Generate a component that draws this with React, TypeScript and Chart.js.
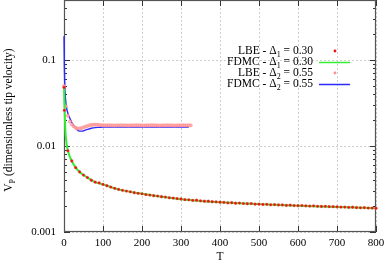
import React, { useEffect, useRef } from "react";
import { Chart, registerables } from "chart.js";

Chart.register(...registerables);

// ---------- data ----------
const lbe1T = [0, 1, 10, 20, 30, 40, 50, 60, 70, 80, 90, 100, 110, 120, 130, 140, 150, 160, 170, 180, 190, 200, 210, 220, 230, 240, 250, 260, 270, 280, 290, 300, 310, 320, 330, 340, 350, 360, 370, 380, 390, 400, 410, 420, 430, 440, 450, 460, 470, 480, 490, 500, 510, 520, 530, 540, 550, 560, 570, 580, 590, 600, 610, 620, 630, 640, 650, 660, 670, 680, 690, 700, 710, 720, 730, 740, 750, 760, 770, 780, 790, 800];
const lbe1V = [0.048, 0.026, 0.0088, 0.0067, 0.0056, 0.0050, 0.0046, 0.0043, 0.0040, 0.0038, 0.00372, 0.00358, 0.00345, 0.00333, 0.00322, 0.00313, 0.00305, 0.00299, 0.00293, 0.00286, 0.00282, 0.00278, 0.00272, 0.00269, 0.00264, 0.00262, 0.00257, 0.00255, 0.00250, 0.00248, 0.00244, 0.00242, 0.00238, 0.00237, 0.00233, 0.00234, 0.00230, 0.00228, 0.00228, 0.00225, 0.00224, 0.00222, 0.00221, 0.00218, 0.00219, 0.00216, 0.00217, 0.00214, 0.00213, 0.00214, 0.00211, 0.00211, 0.00209, 0.00210, 0.00207, 0.00208, 0.00206, 0.00206, 0.00204, 0.00205, 0.00203, 0.00202, 0.00203, 0.00201, 0.00200, 0.00201, 0.00199, 0.00198, 0.00199, 0.00197, 0.00197, 0.00196, 0.00195, 0.00195, 0.00193, 0.00194, 0.00192, 0.00191, 0.00192, 0.00190, 0.00190, 0.00189];

const fdmc1T = [0, 1, 2, 3, 4, 6, 8, 10, 15, 20, 30, 40, 50, 60, 80, 100, 125, 150, 200, 250, 300, 350, 400, 450, 500, 600, 700, 800];
const fdmc1V = [0.05, 0.033, 0.024, 0.017, 0.014, 0.0112, 0.0097, 0.0088, 0.0075, 0.0067, 0.0056, 0.0050, 0.0046, 0.0043, 0.0038, 0.00358, 0.00327, 0.00305, 0.00278, 0.00257, 0.00241, 0.00230, 0.00222, 0.00216, 0.00211, 0.00202, 0.00196, 0.00189];

const lbe2T = [0, 5, 10, 15, 20, 25, 30, 35, 40, 45, 50, 55, 60, 65, 70, 75, 80, 85, 90, 95, 100, 105, 110, 115, 120, 125, 130, 135, 140, 145, 150, 155, 160, 165, 170, 175, 180, 185, 190, 195, 200, 205, 210, 215, 220, 225, 230, 235, 240, 245, 250, 255, 260, 265, 270, 275, 280, 285, 290, 295, 300, 305, 310, 315, 320, 325];
const lbe2V = [0.05, 0.029, 0.0225, 0.0193, 0.0178, 0.0169, 0.0163, 0.0160, 0.0160, 0.0162, 0.0165, 0.0168, 0.0171, 0.0174, 0.0176, 0.0177, 0.0177, 0.0177, 0.0176, 0.0175, 0.0175, 0.0174, 0.0174, 0.0175, 0.0174, 0.0174, 0.0173, 0.0174, 0.0174, 0.0175, 0.0174, 0.0174, 0.0174, 0.0173, 0.0174, 0.0174, 0.0174, 0.0175, 0.0174, 0.0174, 0.0174, 0.0173, 0.0174, 0.0174, 0.0174, 0.0175, 0.0174, 0.0174, 0.0174, 0.0173, 0.0174, 0.0174, 0.0174, 0.0175, 0.0174, 0.0174, 0.0174, 0.0173, 0.0174, 0.0174, 0.0174, 0.0175, 0.0174, 0.0174, 0.0174, 0.0174];

const fdmc2T = [0, 1, 2, 4, 6, 10, 15, 20, 27, 33, 40, 47, 53, 60, 70, 80, 90, 100, 150, 200, 250, 320];
const fdmc2V = [0.19, 0.08, 0.05, 0.035, 0.029, 0.024, 0.021, 0.0188, 0.0168, 0.0156, 0.0149, 0.0149, 0.0152, 0.0156, 0.0161, 0.0164, 0.0165, 0.0166, 0.0166, 0.0166, 0.0166, 0.0166];

const xTicks = [0, 100, 200, 300, 400, 500, 600, 700, 800];
const yDecades = [0.001, 0.01, 0.1];

const legendItems = [
  { pre: "LBE - \u0394", sub: "1", post: " = 0.30", kind: "point", color: "#ee1111" },
  { pre: "FDMC - \u0394", sub: "1", post: " = 0.30", kind: "line", color: "#33ee33" },
  { pre: "LBE - \u0394", sub: "2", post: " = 0.55", kind: "point", color: "#ff8f8f" },
  { pre: "FDMC - \u0394", sub: "2", post: " = 0.55", kind: "line", color: "#2a2aff" },
];

const FONT = '"Liberation Serif", "Times New Roman", serif';

function zip(t: number[], v: number[]) {
  return t.map((x, i) => ({ x, y: v[i] }));
}

function drawParts(ctx: CanvasRenderingContext2D, x: number, y: number, pre: string, sub: string, post: string, size: number, alignRight: boolean) {
  const main = `${size}px ${FONT}`;
  const small = `${Math.round(size * 0.72)}px ${FONT}`;
  ctx.font = main;
  const w1 = ctx.measureText(pre).width;
  const w3 = ctx.measureText(post).width;
  ctx.font = small;
  const w2 = ctx.measureText(sub).width;
  let sx = alignRight ? x - (w1 + w2 + w3) : x;
  ctx.textAlign = "left";
  ctx.textBaseline = "middle";
  ctx.font = main;
  ctx.fillText(pre, sx, y);
  sx += w1;
  ctx.font = small;
  ctx.fillText(sub, sx, y + size * 0.3);
  sx += w2;
  ctx.font = main;
  ctx.fillText(post, sx, y);
}

const decorPlugin = {
  id: "decor",
  beforeDatasetsDraw(chart: any) {
    const ctx: CanvasRenderingContext2D = chart.ctx;
    const { left, right, top, bottom } = chart.chartArea;
    const xs = chart.scales.x;
    const ys = chart.scales.y;
    ctx.save();
    // inner tick marks
    ctx.strokeStyle = "#333";
    ctx.lineWidth = 1;
    ctx.beginPath();
    for (const d of yDecades) {
      for (let m = 1; m <= 9; m++) {
        const v = d * m;
        if (v > ys.max) continue;
        const py = Math.round(ys.getPixelForValue(v)) + 0.5;
        const len = m === 1 ? 6 : 3;
        ctx.moveTo(left, py);
        ctx.lineTo(left + len, py);
        ctx.moveTo(right, py);
        ctx.lineTo(right - len, py);
      }
    }
    for (const t of xTicks) {
      const px = Math.round(xs.getPixelForValue(t)) + 0.5;
      ctx.moveTo(px, bottom);
      ctx.lineTo(px, bottom - 6);
      ctx.moveTo(px, top);
      ctx.lineTo(px, top + 6);
    }
    ctx.stroke();
    // frame
    ctx.strokeStyle = "#555";
    ctx.lineWidth = 1.2;
    ctx.strokeRect(left + 0.5, top + 0.5, right - left - 1, bottom - top - 1);
    ctx.restore();
  },
  afterDraw(chart: any) {
    const ctx: CanvasRenderingContext2D = chart.ctx;
    const { left, right } = chart.chartArea;
    ctx.save();
    // legend
    const lx = 313;
    const ly0 = 51;
    const dy = 11;
    legendItems.forEach((it, i) => {
      const y = ly0 + i * dy;
      ctx.fillStyle = "#000";
      drawParts(ctx, lx, y, it.pre, it.sub, it.post, 11.5, true);
      if (it.kind === "line") {
        ctx.strokeStyle = it.color;
        ctx.lineWidth = 1.5;
        ctx.beginPath();
        ctx.moveTo(319, y + 0.5);
        ctx.lineTo(350, y + 0.5);
        ctx.stroke();
      } else {
        ctx.fillStyle = it.color;
        ctx.beginPath();
        ctx.arc(335, y, 1.4, 0, Math.PI * 2);
        ctx.fill();
      }
    });

    // x title
    ctx.fillStyle = "#000";
    ctx.font = `11.5px ${FONT}`;
    ctx.textAlign = "center";
    ctx.textBaseline = "middle";
    ctx.fillText("T", (left + right) / 2, 257);

    // y title (rotated)
    ctx.save();
    ctx.translate(9, 120);
    ctx.rotate(-Math.PI / 2);
    const size = 11.5;
    ctx.font = `${size}px ${FONT}`;
    const wa = ctx.measureText("V").width;
    const wc = ctx.measureText(" (dimensionless tip velocity)").width;
    ctx.font = `${Math.round(size * 0.72)}px ${FONT}`;
    const wb = ctx.measureText("P").width;
    const total = wa + wb + wc;
    drawParts(ctx, -total / 2, 0, "V", "P", " (dimensionless tip velocity)", size, false);
    ctx.restore();

    ctx.restore();
  },
};

export default function App() {
  const ref = useRef<HTMLCanvasElement | null>(null);
  useEffect(() => {
    if (!ref.current) return;
    const chart = new Chart(ref.current, {
      type: "scatter",
      data: {
        datasets: [
          {
            label: "LBE - \u03941 = 0.30",
            data: zip(lbe1T, lbe1V),
            showLine: false,
            pointRadius: 1.4,
            pointBackgroundColor: "#ee1111",
            pointBorderColor: "rgba(255,90,90,0.5)",
            pointBorderWidth: 0.5,
            clip: 3,
          },
          {
            label: "FDMC - \u03941 = 0.30",
            data: zip(fdmc1T, fdmc1V),
            showLine: true,
            pointRadius: 0,
            borderColor: "#33ee33",
            borderWidth: 2,
            cubicInterpolationMode: "monotone",
            clip: 2,
          },
          {
            label: "LBE - \u03942 = 0.55",
            data: zip(lbe2T, lbe2V),
            showLine: false,
            pointRadius: 1.5,
            pointBackgroundColor: "rgba(255,175,175,0.9)",
            pointBorderColor: "#ff7f7f",
            pointBorderWidth: 0.6,
            clip: 3,
          },
          {
            label: "FDMC - \u03942 = 0.55",
            data: zip(fdmc2T, fdmc2V),
            showLine: true,
            pointRadius: 0,
            borderColor: "#2a2aff",
            borderWidth: 1.4,
            cubicInterpolationMode: "monotone",
            clip: 2,
          },
        ],
      },
      options: {
        animation: false,
        responsive: false,
        events: [],
        layout: { autoPadding: false, padding: { left: 0, right: 10, top: 0, bottom: 0 } },
        plugins: { legend: { display: false }, tooltip: { enabled: false } },
        scales: {
          x: {
            type: "linear",
            min: 0,
            max: 800,
            afterFit: (s: any) => {
              s.height = 32;
              s.paddingLeft = 0;
              s.paddingRight = 0;
              s.paddingTop = 0;
              s.paddingBottom = 0;
            },
            afterBuildTicks: (s: any) => {
              s.ticks = xTicks.map((v) => ({ value: v }));
            },
            ticks: {
              padding: 5,
              color: "#000",
              font: { family: FONT, size: 11 },
              maxRotation: 0,
              callback: (v: any) => String(v),
            },
            grid: { color: "#cfcfcf", lineWidth: 1, drawTicks: false },
            border: { display: false, dash: [2, 2] },
          },
          y: {
            type: "logarithmic",
            min: 0.001,
            max: 0.5,
            afterFit: (s: any) => {
              s.width = 64;
              s.paddingLeft = 0;
              s.paddingRight = 0;
              s.paddingTop = 0;
              s.paddingBottom = 0;
            },
            afterBuildTicks: (s: any) => {
              s.ticks = yDecades.map((v) => ({ value: v, major: true }));
            },
            ticks: {
              padding: 8,
              color: "#000",
              font: { family: FONT, size: 11 },
              autoSkip: false,
              callback: (v: any) => String(v),
            },
            grid: { color: "#cfcfcf", lineWidth: 1, drawTicks: false },
            border: { display: false, dash: [2, 2] },
          },
        },
      },
      plugins: [decorPlugin],
    } as any);
    return () => chart.destroy();
  }, []);
  return (
    <div style={{ position: "fixed", left: 0, top: 0, width: 386, height: 264, background: "#fff" }}>
      <canvas ref={ref} width={386} height={264} style={{ width: 386, height: 264, display: "block" }} />
    </div>
  );
}
